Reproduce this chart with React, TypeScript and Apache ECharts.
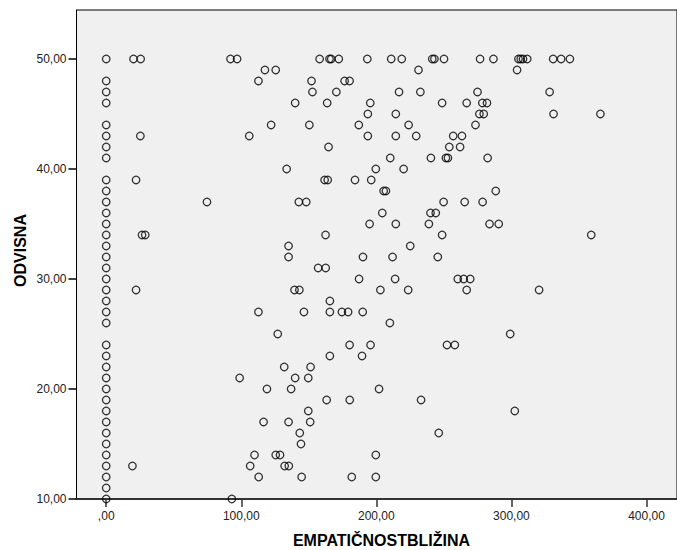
import React, { useEffect, useRef } from "react";
import * as echarts from "echarts";

// ODVISNA levels and the EMPATIČNOSTBLIŽINA values of the points on each level
const zeroColumnY = [
  10, 11, 12, 13, 14, 15, 16, 17, 18, 19, 20, 21, 22, 23, 24,
  26, 27, 28, 29, 30, 31, 32, 33, 34, 35, 36, 37, 38, 39,
  41, 42, 43, 44, 46, 47, 48, 50,
];

const levelY = [
  50, 49, 48, 47, 46, 45, 44, 43, 42, 41, 40, 39, 38, 37, 36, 35, 34, 33, 32, 31,
  30, 29, 28, 27, 26, 25, 24, 23, 22, 21, 20, 19, 18, 17, 16, 15, 14, 13, 12, 10,
];

const levelX: number[][] = [
  [20.2, 25.5, 92, 96.9, 158, 165.3, 166.6, 172.2, 193.3, 211, 218.8, 241.4, 243, 250.1, 276.8, 286.7, 305.2, 306.9, 308.6, 311.7, 330.9, 336.8, 343.3], // 50
  [117.5, 125.5, 231.2, 304.2], // 49
  [112.7, 152, 176.5, 180.2], // 48
  [152.7, 170.4, 216.8, 232.6, 274.9, 328.3], // 47
  [139.9, 163.6, 195.5, 248.7, 266.9, 278.5, 281.9], // 46
  [193.7, 214.4, 276.3, 279.5, 331.2, 365.9], // 45
  [122.1, 150.4, 187, 223.9, 273.4], // 44
  [25.3, 105.9, 193.7, 214.4, 229.5, 256.9, 263.4], // 43
  [164.6, 254, 262], // 42
  [210.3, 240.4, 251.5, 253, 282.4], // 41
  [133.6, 199.6, 220.2], // 40
  [22.1, 161.7, 164, 184.2, 196.2], // 39
  [205.4, 207.1, 288.4], // 38
  [74.6, 142.6, 148.1, 249.8, 265.4, 278.7], // 37
  [204.4, 240.1, 244], // 36
  [195, 214.4, 238.9, 283.8, 290.6], // 35
  [26.5, 28.9, 162.4, 248.7, 359.1], // 34
  [135, 225.1], // 33
  [135, 190.1, 212, 245.5], // 32
  [156.9, 162.5], // 31
  [187.2, 213.9, 260.3, 264.7, 269.5], // 30
  [22.1, 139.4, 143, 203, 223.6, 266.9, 320.5], // 29
  [165.6], // 28
  [112.7, 146.4, 165.6, 174.5, 179.1, 189.9], // 27
  [210], // 26
  [127, 299.1], // 25
  [180.2, 195.7, 252.3, 258.1], // 24
  [165.6, 189.4], // 23
  [131.8, 151.3], // 22
  [98.8, 139.9, 149.6], // 21
  [119, 136.9, 202], // 20
  [163.2, 180.3, 233.1], // 19
  [149.6, 302.5], // 18
  [116.5, 135, 151], // 17
  [143.3, 246.2], // 16
  [144.2], // 15
  [109.8, 125.5, 128.7, 199.6], // 14
  [19.4, 106.6, 132.1, 135.2], // 13
  [112.9, 144.7, 181.8, 199.6], // 12
  [93], // 10
];

const xTicks = [0, 100, 200, 300, 400];
const yTicks = [10, 20, 30, 40, 50];

const xTitle = "EMPATIČNOSTBLIŽINA";
const yTitle = "ODVISNA";

const fmt = (v: number) => {
  const s = Number(v).toFixed(2).replace(".", ",");
  return s.startsWith("0,") ? s.slice(1) : s;
};

export default function App() {
  const ref = useRef<HTMLDivElement>(null);

  useEffect(() => {
    document.body.style.margin = "0";
    if (!ref.current) return;
    const chart = echarts.init(ref.current, null, { renderer: "svg" });

    const points: number[][] = [];
    zeroColumnY.forEach((y) => points.push([0, y]));
    levelY.forEach((y, i) => levelX[i].forEach((x) => points.push([x, y])));

    const font = "'Liberation Sans', Arial, sans-serif";

    chart.setOption({
      animation: false,
      backgroundColor: "#ffffff",
      grid: {
        left: 76.5,
        top: 10,
        right: -9,
        bottom: 51,
        show: true,
        backgroundColor: "#f0f0f0",
        borderColor: "#000",
        borderWidth: 1,
      },
      xAxis: {
        type: "value",
        min: -22,
        max: 422.6,
        splitLine: { show: false },
        axisLine: { show: true, onZero: false, lineStyle: { color: "#333", width: 2 } },
        axisTick: {
          show: true,
          length: 8,
          customValues: xTicks,
          lineStyle: { color: "#333", width: 1.5 },
        },
        axisLabel: {
          customValues: xTicks,
          formatter: fmt,
          margin: 11,
          color: "#222",
          fontSize: 12,
          fontFamily: font,
        },
      },
      yAxis: {
        type: "value",
        min: 10,
        max: 54.45,
        splitLine: { show: false },
        axisLine: { show: true, onZero: false, lineStyle: { color: "#000", width: 1 } },
        axisTick: {
          show: true,
          length: 8,
          customValues: yTicks,
          lineStyle: { color: "#000", width: 1.5 },
        },
        axisLabel: {
          customValues: yTicks,
          formatter: fmt,
          margin: 10,
          color: "#222",
          fontSize: 12,
          fontFamily: font,
        },
      },
      graphic: [
        {
          type: "text",
          x: 381.5,
          y: 540,
          style: {
            text: xTitle,
            align: "center",
            verticalAlign: "middle",
            textAlign: "center",
            textVerticalAlign: "middle",
            font: `bold 16px ${font}`,
            fill: "#000",
          },
        },
        {
          type: "text",
          x: 20,
          y: 250.5,
          rotation: Math.PI / 2,
          style: {
            text: yTitle,
            align: "center",
            verticalAlign: "middle",
            textAlign: "center",
            textVerticalAlign: "middle",
            font: `bold 16px ${font}`,
            fill: "#000",
          },
        },
      ],
      series: [
        {
          type: "scatter",
          data: points,
          symbol: "circle",
          symbolSize: 7.5,
          itemStyle: {
            color: "rgba(0,0,0,0)",
            borderColor: "#000",
            borderWidth: 1.3,
          },
          emphasis: { disabled: true },
        },
      ],
    });

    return () => chart.dispose();
  }, []);

  return <div ref={ref} style={{ width: 677, height: 550 }} />;
}
